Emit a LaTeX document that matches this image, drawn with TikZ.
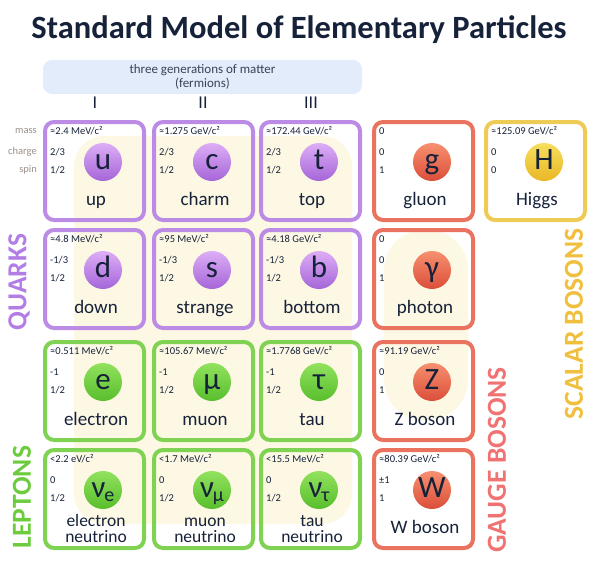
\documentclass[tikz,border=0pt]{standalone}
\usepackage{fontspec}
\setmainfont{Carlito}
\usepackage{tikz}
\usetikzlibrary{positioning}

\definecolor{ink}{HTML}{16213A}
\definecolor{greyish}{HTML}{9C9088}
\definecolor{cream}{HTML}{FCF8E4}
\definecolor{banner}{HTML}{E3ECFB}
\definecolor{quarkline}{HTML}{BB8BE6}
\definecolor{quarktop}{HTML}{DDAEF6}
\definecolor{quarkbot}{HTML}{A565D8}
\definecolor{quarktext}{HTML}{B37DE6}
\definecolor{leptonline}{HTML}{80D253}
\definecolor{leptontop}{HTML}{92E25E}
\definecolor{leptonbot}{HTML}{58BE2C}
\definecolor{leptontext}{HTML}{6DCB3E}
\definecolor{gaugeline}{HTML}{E9735F}
\definecolor{gaugetop}{HTML}{F7906F}
\definecolor{gaugebot}{HTML}{DB4E3A}
\definecolor{gaugetext}{HTML}{F17272}
\definecolor{higgsline}{HTML}{EECB55}
\definecolor{higgstop}{HTML}{F6DE5E}
\definecolor{higgsbot}{HTML}{E9B726}
\definecolor{higgstext}{HTML}{F1BF3E}

% one tile: id, x, y, kind, symbol, name, mass, charge, spin
\newcommand{\particle}[9]{%
  \node[tile, draw=#4line] (#1) at (#2,#3) {};
  \node[ball, top color=#4top, bottom color=#4bot] (#1-sym) at ([xshift=58pt,yshift=-40pt]#1.north west) {#5};
  \node[pname] (#1-name) at ([xshift=51pt,yshift=-83pt]#1.north west) {#6};
  \node[prop] (#1-mass) at ([xshift=5pt,yshift=-9pt]#1.north west) {#7};
  \node[prop] (#1-charge) at ([xshift=5pt,yshift=-30pt]#1.north west) {#8};
  \node[prop] (#1-spin) at ([xshift=5pt,yshift=-48pt]#1.north west) {#9};
}
\newcommand{\twoname}[2]{\raisebox{-9pt}{\vbox{\fontsize{17.5}{15.5}\selectfont
  \hbox to 90pt{\hfil#1\hfil}\hbox to 90pt{\hfil#2\hfil}}}}
\newcommand{\nusub}[1]{ν\kern-1pt\raisebox{-4pt}{\fontsize{20}{20}\selectfont #1}}

\begin{document}
\begin{tikzpicture}[x=1pt, y=-1pt,
  tile/.style={line width=4pt, rounded corners=9pt, minimum width=99pt,
    minimum height=98pt, anchor=north west, outer sep=0pt, inner sep=0pt},
  ball/.style={circle, minimum size=38pt, inner sep=0pt, text=ink,
    font=\fontsize{31}{31}\selectfont, text height=18pt, text depth=3pt},
  pname/.style={anchor=base, text=ink, font=\fontsize{19}{20}\selectfont, inner sep=0pt},
  prop/.style={anchor=west, text=ink, font=\fontsize{10.5}{12}\selectfont, inner sep=0pt},
  rowlabel/.style={anchor=east, text=greyish, font=\fontsize{10.5}{12}\selectfont, inner sep=0pt},
  group/.style={rotate=90, font=\bfseries\fontsize{27.5}{28}\selectfont, inner sep=0pt}]
  \useasboundingbox (0,0) rectangle (600,574);

  % faint background
  \fill[cream, rounded corners=30pt] (74,136) rectangle (352,524);
  \fill[cream, rounded corners=40pt] (384,230) rectangle (468,420);

  % title and header
  \node[font=\bfseries\fontsize{32.5}{33}\selectfont, text=ink] (title) at (299,30) {Standard Model of Elementary Particles};
  \node[fill=banner, rounded corners=9pt, minimum width=319pt, minimum height=34pt, inner sep=0pt] (gen) at (202.5,77) {};
  \node[align=center, text=ink!85, font=\fontsize{13}{14}\selectfont] (gentext) at (gen) {three generations of matter\\(fermions)};
  \node[text=ink, font=\fontsize{18}{18}\selectfont] (g1) at (95,103) {I};
  \node[text=ink, font=\fontsize{18}{18}\selectfont] (g2) at (203,103) {II};
  \node[text=ink, font=\fontsize{18}{18}\selectfont] (g3) at (311,103) {III};
  \node[rowlabel] (mass) at (37,131) {mass};
  \node[rowlabel] (charge) at (37,152) {charge};
  \node[rowlabel] (spin) at (37,170) {spin};

  % quarks
  \particle{up}{45}{122}{quark}{u}{up}{≈2.4 MeV/c²}{2/3}{1/2}
  \particle{charm}{154}{122}{quark}{c}{charm}{≈1.275 GeV/c²}{2/3}{1/2}
  \particle{top}{261}{122}{quark}{t}{top}{≈172.44 GeV/c²}{2/3}{1/2}
  \particle{down}{45}{230}{quark}{d}{down}{≈4.8 MeV/c²}{-1/3}{1/2}
  \particle{strange}{154}{230}{quark}{s}{strange}{≈95 MeV/c²}{-1/3}{1/2}
  \particle{bottom}{261}{230}{quark}{b}{bottom}{≈4.18 GeV/c²}{-1/3}{1/2}

  % leptons
  \particle{electron}{45}{342}{lepton}{e}{electron}{≈0.511 MeV/c²}{-1}{1/2}
  \particle{muon}{154}{342}{lepton}{μ}{muon}{≈105.67 MeV/c²}{-1}{1/2}
  \particle{tau}{261}{342}{lepton}{τ}{tau}{≈1.7768 GeV/c²}{-1}{1/2}
  \particle{nue}{45}{450}{lepton}{\nusub{e}}{\twoname{electron}{neutrino}}{<2.2 eV/c²}{0}{1/2}
  \particle{numu}{154}{450}{lepton}{\nusub{μ}}{\twoname{muon}{neutrino}}{<1.7 MeV/c²}{0}{1/2}
  \particle{nutau}{261}{450}{lepton}{\nusub{τ}}{\twoname{tau}{neutrino}}{<15.5 MeV/c²}{0}{1/2}

  % bosons
  \particle{gluon}{374}{122}{gauge}{g}{gluon}{0}{0}{1}
  \particle{photon}{374}{230}{gauge}{γ}{photon}{0}{0}{1}
  \particle{zboson}{374}{342}{gauge}{Z}{Z boson}{≈91.19 GeV/c²}{0}{1}
  \particle{wboson}{374}{450}{gauge}{W}{W boson}{≈80.39 GeV/c²}{±1}{1}
  \particle{higgs}{486}{122}{higgs}{H}{Higgs}{≈125.09 GeV/c²}{0}{0}

  % group labels
  \node[group, text=quarktext] (quarks) at (19,282) {QUARKS};
  \node[group, text=leptontext] (leptons) at (22,497) {LEPTONS};
  \node[group, text=gaugetext] (gauge) at (497,460) {GAUGE BOSONS};
  \node[group, text=higgstext] (scalar) at (574,324) {SCALAR BOSONS};
\end{tikzpicture}
\end{document}
